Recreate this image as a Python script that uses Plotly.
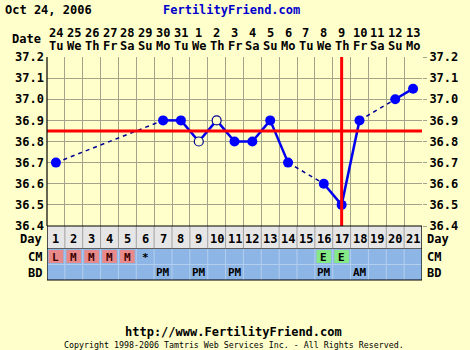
import plotly.graph_objects as go

# ---- data ----
days = list(range(1, 22))
dates = ["24", "25", "26", "27", "28", "29", "30", "31", "1", "2", "3", "4",
         "5", "6", "7", "8", "9", "10", "11", "12", "13"]
weekdays = ["Tu", "We", "Th", "Fr", "Sa", "Su", "Mo", "Tu", "We", "Th", "Fr",
            "Sa", "Su", "Mo", "Tu", "We", "Th", "Fr", "Sa", "Su", "Mo"]
temp_days = [1, 7, 8, 9, 10, 11, 12, 13, 14, 16, 17, 18, 20, 21]
temps = [36.7, 36.9, 36.9, 36.8, 36.9, 36.8, 36.8, 36.9, 36.7, 36.6, 36.5,
         36.9, 37.0, 37.05]
open_days = [9, 10]
cm_values = ["L", "M", "M", "M", "M", "*", "", "", "", "", "", "", "", "", "",
             "E", "E", "", "", "", ""]
bd_values = ["", "", "", "", "", "", "PM", "", "PM", "", "PM", "", "", "", "",
             "PM", "", "AM", "", "", ""]
y_ticks = [36.4, 36.5, 36.6, 36.7, 36.8, 36.9, 37.0, 37.1, 37.2]
coverline = 36.85
ovulation_day = 17

# ---- styling ----
BG = "#FFFFCC"
GRID = "#A3A38A"
FONT = "DejaVu Sans Mono"
W, H = 470, 350
L, R, T, B = 47, 45, 57, 124
PH = H - T - B
PW = W - L - R


def py(p):  # pixel y -> paper y
    return (H - B - p) / PH


def px(p):  # pixel x -> paper x
    return (p - L) / PW


fig = go.Figure()

# line segments: solid for consecutive days, dashed across gaps
sx, sy, dx, dy = [], [], [], []
for i in range(len(temp_days) - 1):
    a, b = temp_days[i], temp_days[i + 1]
    if b - a == 1:
        sx += [a, b, None]
        sy += [temps[i], temps[i + 1], None]
    else:
        dx += [a, b, None]
        dy += [temps[i], temps[i + 1], None]

fig.add_trace(go.Scatter(x=dx, y=dy, mode="lines",
                         line=dict(color="#000090", width=1.5, dash="4px,4px"),
                         hoverinfo="skip", showlegend=False))
fig.add_trace(go.Scatter(x=sx, y=sy, mode="lines",
                         line=dict(color="#0000EE", width=2.5),
                         hoverinfo="skip", showlegend=False))

fx = [d for d in temp_days if d not in open_days]
fy = [t for d, t in zip(temp_days, temps) if d not in open_days]
ox = [d for d in temp_days if d in open_days]
oy = [t for d, t in zip(temp_days, temps) if d in open_days]
fig.add_trace(go.Scatter(x=fx, y=fy, mode="markers",
                         marker=dict(color="#0000FF", size=10, line=dict(width=0)),
                         showlegend=False))
fig.add_trace(go.Scatter(x=ox, y=oy, mode="markers",
                         marker=dict(color=BG, size=9, line=dict(color="#000090", width=1.2)),
                         showlegend=False))
# dummy trace for right axis
fig.add_trace(go.Scatter(x=[None], y=[None], yaxis="y2", showlegend=False))

shapes = []
# coverline and ovulation line
shapes.append(dict(type="line", xref="x", yref="y", x0=0.5, x1=21.5,
                   y0=coverline, y1=coverline, line=dict(color="#FF0000", width=3)))
shapes.append(dict(type="line", xref="x", yref="y", x0=ovulation_day, x1=ovulation_day,
                   y0=36.4, y1=37.2, line=dict(color="#FF0000", width=3)))

# table rows
rows = [(226, 248.5, "#E6E6E6"), (248.5, 264.5, "#8DB6E6"), (264.5, 280, "#8DB6E6")]
for top, bot, col in rows:
    shapes.append(dict(type="rect", xref="x", yref="paper", x0=0.5, x1=21.5,
                       y0=py(bot), y1=py(top), fillcolor=col, line=dict(width=0), layer="below"))
# special CM cells
for d, v in zip(days, cm_values):
    col = None
    if v in ("L", "M"):
        col = "#E88A8A"
    elif v == "E":
        col = "#86E886"
    if col:
        shapes.append(dict(type="rect", xref="x", yref="paper", x0=d - 0.41, x1=d + 0.41,
                           y0=py(263), y1=py(250), fillcolor=col, line=dict(width=0)))
# cell separators
for k in range(22):
    xv = 0.5 + k
    shapes.append(dict(type="line", xref="x", yref="paper", x0=xv, x1=xv,
                       y0=py(248.5), y1=py(226), line=dict(color="#A0A0A0", width=1)))
    shapes.append(dict(type="line", xref="x", yref="paper", x0=xv, x1=xv,
                       y0=py(280), y1=py(248.5), line=dict(color="#B4CEEE", width=1)))
shapes.append(dict(type="line", xref="x", yref="paper", x0=0.5, x1=21.5,
                   y0=py(248.5), y1=py(248.5), line=dict(color="#606060", width=1)))
shapes.append(dict(type="line", xref="x", yref="paper", x0=0.5, x1=21.5,
                   y0=py(264.5), y1=py(264.5), line=dict(color="#B4CEEE", width=1)))
# table border
shapes.append(dict(type="rect", xref="x", yref="paper", x0=0.5, x1=21.5,
                   y0=py(280), y1=py(226), line=dict(color="#000000", width=1.2)))
# left axis border
shapes.append(dict(type="line", xref="paper", yref="paper", x0=0, x1=0, y0=0, y1=1,
                   line=dict(color="#000000", width=1.2)))

ann = []


def txt(x, y, s, xref="x", size=12, bold=True, color="#000000", xanchor="center"):
    ann.append(dict(x=x, y=y, xref=xref, yref="paper", text=s, showarrow=False,
                    xanchor=xanchor, yanchor="middle",
                    font=dict(family=FONT, size=size, color=color,
                              weight="bold" if bold else "normal")))


txt(px(3), py(10), "Oct 24, 2006", xref="paper", xanchor="left")
txt(px(233), py(10), "FertilityFriend.com", xref="paper", color="#0000CC")
txt(px(43), py(39), "Date", xref="paper", xanchor="right")
for d, dt, wd in zip(days, dates, weekdays):
    txt(d, py(33), dt)
    txt(d, py(46), wd)
    txt(d, py(238.5), str(d))
for d, v in zip(days, cm_values):
    if v:
        txt(d, py(257), v, size=11, color="#3A0000" if v in ("L", "M") else "#000000")
for d, v in zip(days, bd_values):
    if v:
        txt(d, py(272.5), v, size=11)
for lab, yy in (("Day", 238.5), ("CM", 257), ("BD", 272.5)):
    txt(px(44), py(yy), lab, xref="paper", xanchor="right")
    txt(px(428), py(yy), lab, xref="paper", xanchor="left")
txt(px(235), py(332), "http://www.FertilityFriend.com", xref="paper")
txt(px(235), py(345), "Copyright 1998-2006 Tamtris Web Services Inc. - All Rights Reserved.",
    xref="paper", size=8.3, bold=False)

tickfont = dict(family=FONT, size=12, color="#000000", weight="bold")
fig.update_layout(
    width=W, height=H, margin=dict(l=L, r=R, t=T, b=B),
    paper_bgcolor=BG, plot_bgcolor=BG,
    xaxis=dict(range=[0.5, 21.5], tick0=0.5, dtick=1, showticklabels=False,
               showgrid=True, gridcolor=GRID, gridwidth=1, zeroline=False,
               showline=False, ticks="", fixedrange=True),
    yaxis=dict(range=[36.4, 37.2], tickvals=y_ticks,
               ticktext=[f"{v:.1f}" for v in y_ticks], tickfont=tickfont,
               showgrid=True, gridcolor=GRID, gridwidth=1, zeroline=False,
               ticks="", showline=False, ticklabelstandoff=2),
    yaxis2=dict(range=[36.4, 37.2], tickvals=y_ticks, overlaying="y", side="right",
                ticktext=[f"{v:.1f}" for v in y_ticks], tickfont=tickfont,
                showgrid=False, zeroline=False, ticks="outside", ticklen=4,
                tickcolor=GRID, showline=False),
    shapes=shapes, annotations=ann, showlegend=False,
)

fig.write_html("out.html")
